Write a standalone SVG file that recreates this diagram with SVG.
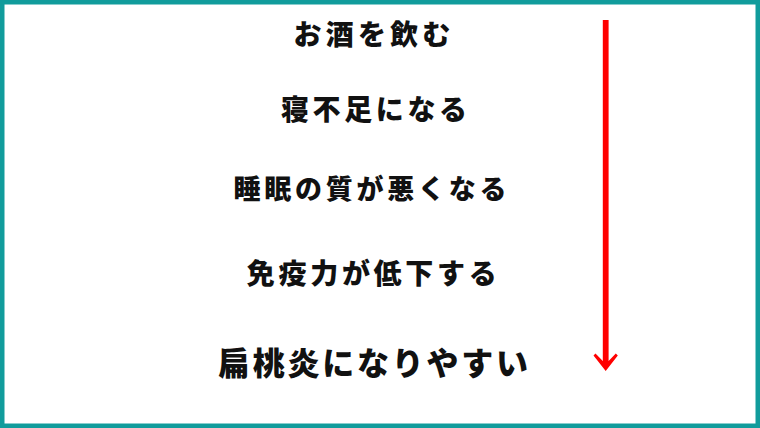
<svg xmlns="http://www.w3.org/2000/svg" width="760" height="428" viewBox="0 0 760 428">
  <style>
    .t { font-family: "Noto Sans CJK JP", "Noto Sans", sans-serif; font-weight: 900; fill: #111; text-anchor: middle; }
  </style>
  <rect x="0" y="0" width="760" height="428" fill="#ffffff"/>
  <rect x="2.25" y="2.25" width="755.5" height="423.5" fill="none" stroke="#119c9c" stroke-width="4.5"/>
  <g id="node1"><text class="t" x="374" y="45" font-size="28" letter-spacing="4.2">お酒を飲む</text></g>
  <g id="node2"><text class="t" x="375.8" y="120" font-size="28" letter-spacing="3.6">寝不足になる</text></g>
  <g id="node3"><text class="t" x="371.9" y="199" font-size="27" letter-spacing="3.75">睡眠の質が悪くなる</text></g>
  <g id="node4"><text class="t" x="373.6" y="284" font-size="28" letter-spacing="3.7">免疫力が低下する</text></g>
  <g id="node5"><text class="t" x="374.4" y="375" font-size="32" letter-spacing="2.75">扁桃炎になりやすい</text></g>
  <g id="connectors">
    <rect x="602.8" y="20" width="5.8" height="342" fill="#ff0000"/>
    <polygon points="602.8,361 595.5,353.5 593.5,355.5 605.7,371 617.8,355.5 615.8,353.5 608.6,361" fill="#ff0000"/>
  </g>
</svg>
